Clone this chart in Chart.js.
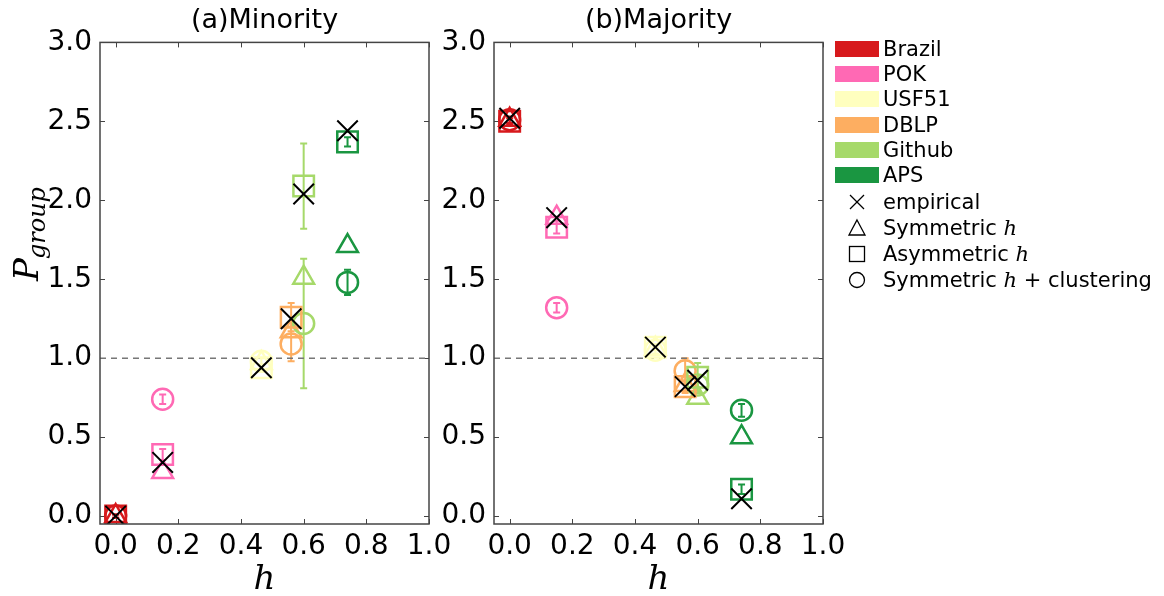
<!DOCTYPE html>
<html>
<head>
<meta charset="utf-8">
<script src="https://cdn.jsdelivr.net/npm/chart.js@4.4.1/dist/chart.umd.min.js"></script>
<style>
  body { margin: 0; background: #fff; width: 1164px; height: 596px; overflow: hidden; position: relative; font-family: "DejaVu Sans", sans-serif; }
  canvas { position: absolute; top: 0; }
  #legend { position: absolute; left: 835px; top: 0; width: 330px; height: 300px; }
  .row { position: absolute; left: 0; height: 26px; display: flex; align-items: center; white-space: pre; font-size: 21px; color: #000; }
  .patch { width: 44px; height: 16px; margin-right: 4px; }
  .sym { width: 44px; height: 20px; margin-right: 4px; display: flex; justify-content: center; align-items: center; }
  .mh { font-family: "DejaVu Serif", serif; font-style: italic; }
</style>
</head>
<body>
<canvas id="minority" width="470" height="596" style="left:0px"></canvas>
<canvas id="majority" width="420" height="596" style="left:440px"></canvas>
<div id="legend"></div>
<script>
// networks and their homophily h
const networks = ["Brazil", "POK", "USF51", "DBLP", "Github", "APS"];
const netColors = ["#d7191c", "#ff69b4", "#ffffbf", "#fdae61", "#a6d96a", "#1a9641"];
const hValues = [0.0, 0.15, 0.465, 0.56, 0.60, 0.74];

// (a) minority
const empMin = [0.0, 0.34, 0.94, 1.25, 2.04, 2.44];
const symMin = [0.0, 0.28, 0.97, 1.17, 1.51, 1.71];
const asymMin = [0.0, 0.39, 0.94, 1.26, 2.09, 2.37];
const asymMinErr = [0.01, 0.035, 0.02, 0.09, 0.27, 0.03];
const clusMin = [0.0, 0.74, 0.98, 1.09, 1.22, 1.48];
const clusMinErr = [0.01, 0.03, 0.02, 0.11, 0.41, 0.08];

// (b) majority
const empMaj = [2.52, 1.89, 1.07, 0.82, 0.86, 0.11];
const symMaj = [2.51, 1.89, 1.06, 0.83, 0.75, 0.50];
const asymMaj = [2.50, 1.83, 1.07, 0.82, 0.88, 0.17];
const asymMajErr = [0.02, 0.04, 0.02, 0.04, 0.09, 0.03];
const clusMaj = [2.51, 1.32, 1.05, 0.92, 0.83, 0.67];
const clusMajErr = [0.02, 0.03, 0.02, 0.08, 0.05, 0.04];

const referenceLevel = 1.0;
const xTicks = [0.0, 0.2, 0.4, 0.6, 0.8, 1.0];
const yTicks = [0.0, 0.5, 1.0, 1.5, 2.0, 2.5, 3.0];

const pts = (ys) => ys.map((v, i) => ({ x: hValues[i], y: v }));

const errorBars = {
  id: "errorBars",
  beforeDatasetsDraw(chart) {
    const { ctx, scales: { x, y } } = chart;
    ctx.save();
    ctx.lineWidth = 2;
    chart.data.datasets.forEach((ds) => {
      if (!ds.errors) return;
      ds.data.forEach((p, i) => {
        const e = ds.errors[i];
        const px = x.getPixelForValue(p.x);
        const top = y.getPixelForValue(p.y + e);
        const bot = y.getPixelForValue(p.y - e);
        ctx.strokeStyle = ds.pointBorderColor[i];
        ctx.beginPath();
        ctx.moveTo(px, top); ctx.lineTo(px, bot);
        ctx.moveTo(px - 3.5, top); ctx.lineTo(px + 3.5, top);
        ctx.moveTo(px - 3.5, bot); ctx.lineTo(px + 3.5, bot);
        ctx.stroke();
      });
    });
    ctx.restore();
  },
};

const frameAndLabels = {
  id: "frameAndLabels",
  beforeDatasetsDraw(chart) {
    const { ctx, chartArea: a, scales: { x, y } } = chart;
    ctx.save();
    ctx.strokeStyle = "#444";
    ctx.lineWidth = 1;
    ctx.beginPath();
    x.ticks.forEach((t) => {
      const px = Math.round(x.getPixelForValue(t.value)) + 0.5;
      ctx.moveTo(px, a.bottom); ctx.lineTo(px, a.bottom - 5);
      ctx.moveTo(px, a.top); ctx.lineTo(px, a.top + 5);
    });
    y.ticks.forEach((t) => {
      const py = Math.round(y.getPixelForValue(t.value)) + 0.5;
      ctx.moveTo(a.left, py); ctx.lineTo(a.left + 5, py);
      ctx.moveTo(a.right, py); ctx.lineTo(a.right - 5, py);
    });
    ctx.stroke();
    ctx.restore();
  },
  afterDraw(chart, args, opts) {
    const { ctx, chartArea: a } = chart;
    ctx.save();
    ctx.strokeStyle = "#444";
    ctx.lineWidth = 1.5;
    ctx.strokeRect(a.left, a.top, a.right - a.left, a.bottom - a.top);
    ctx.fillStyle = "#000";
    ctx.textAlign = "center";
    ctx.textBaseline = "alphabetic";
    ctx.font = "italic 34px 'DejaVu Serif'";
    ctx.fillText("h", (a.left + a.right) / 2, 589);
    if (opts.yLabel) {
      ctx.translate(38, 281);
      ctx.rotate(-Math.PI / 2);
      ctx.textAlign = "left";
      ctx.font = "italic 34px 'DejaVu Serif'";
      ctx.fillText("P", 0, 0);
      const pw = ctx.measureText("P").width;
      ctx.font = "italic 24px 'DejaVu Serif'";
      ctx.fillText("group", pw - 1, 7);
    }
    ctx.restore();
  },
};

function makePanel(id, title, emp, sym, asym, asymErr, clus, clusErr, axisWidth, padRight, yLabel) {
  const shape = (label, data, style, radius, order, errors) => ({
    label: label,
    data: pts(data),
    errors: errors,
    pointStyle: style,
    pointRadius: radius,
    pointHoverRadius: radius,
    pointBorderColor: netColors,
    pointBackgroundColor: "rgba(0,0,0,0)",
    pointBorderWidth: 2.5,
    order: order,
  });
  return new Chart(document.getElementById(id), {
    type: "scatter",
    data: {
      datasets: [
        {
          label: "empirical",
          data: pts(emp),
          pointStyle: "crossRot",
          pointRadius: 14.5,
          pointHoverRadius: 14.5,
          pointBorderColor: networks.map(() => "#000"),
          pointBorderWidth: 2,
          order: 0,
        },
        shape("Asymmetric h", asym, "rect", 14.5, 1, asymErr),
        shape("Symmetric h + clustering", clus, "circle", 10.5, 2, clusErr),
        shape("Symmetric h", sym, "triangle", 12, 3),
        {
          label: "reference",
          type: "line",
          data: [{ x: -0.05, y: referenceLevel }, { x: 1.0, y: referenceLevel }],
          borderColor: "#777",
          borderWidth: 1.5,
          borderDash: [6, 5],
          pointRadius: 0,
          order: 10,
        },
      ],
    },
    options: {
      responsive: false,
      animation: false,
      events: [],
      layout: { padding: { left: 0, right: padRight, top: 0, bottom: 0 } },
      plugins: {
        legend: { display: false },
        tooltip: { enabled: false },
        title: {
          display: true,
          text: title,
          fullSize: false,
          color: "#000",
          font: { family: "DejaVu Sans", size: 27, weight: "normal", lineHeight: 1.2 },
          padding: { top: 5, bottom: 5 },
        },
        frameAndLabels: { yLabel: yLabel },
      },
      scales: {
        x: {
          type: "linear",
          min: -0.05,
          max: 1.0,
          afterFit: (s) => { s.height = 72; },
          afterBuildTicks: (s) => { s.ticks = xTicks.map((v) => ({ value: v })); },
          grid: { display: false, drawTicks: false },
          border: { display: false },
          ticks: {
            padding: 6,
            color: "#000",
            font: { family: "DejaVu Sans", size: 28 },
            callback: (v) => v.toFixed(1),
            maxRotation: 0,
            autoSkip: false,
          },
        },
        y: {
          type: "linear",
          min: -0.05,
          max: 3.0,
          afterFit: (s) => { s.width = axisWidth; },
          afterBuildTicks: (s) => { s.ticks = yTicks.map((v) => ({ value: v })); },
          grid: { display: false, drawTicks: false },
          border: { display: false },
          ticks: {
            padding: 8,
            color: "#000",
            font: { family: "DejaVu Sans", size: 28 },
            callback: (v) => v.toFixed(1),
            autoSkip: false,
          },
        },
      },
    },
    plugins: [errorBars, frameAndLabels],
  });
}

makePanel("minority", "(a)Minority", empMin, symMin, asymMin, asymMinErr, clusMin, clusMinErr, 100, 41, true);
makePanel("majority", "(b)Majority", empMaj, symMaj, asymMaj, asymMajErr, clusMaj, clusMajErr, 54, 37, false);

// legend: networks as colour patches, models as marker symbols
const models = [
  { name: "<span>empirical</span>", svg: '<line x1="3" y1="3" x2="17" y2="17"/><line x1="17" y1="3" x2="3" y2="17"/>' },
  { name: '<span>Symmetric <span class="mh">h</span></span>', svg: '<polygon points="10,2 18,17 2,17" fill="none"/>' },
  { name: '<span>Asymmetric <span class="mh">h</span></span>', svg: '<rect x="2.5" y="2.5" width="15" height="15" fill="none"/>' },
  { name: '<span>Symmetric <span class="mh">h</span> + clustering</span>', svg: '<circle cx="10" cy="10" r="7.5" fill="none"/>' },
];
const legend = document.getElementById("legend");
networks.forEach((n, i) => {
  const row = document.createElement("div");
  row.className = "row";
  row.style.top = (36 + 25.2 * i) + "px";
  row.innerHTML = '<div class="patch" style="background:' + netColors[i] + '"></div><span>' + n + "</span>";
  legend.appendChild(row);
});
models.forEach((m, i) => {
  const row = document.createElement("div");
  row.className = "row";
  row.style.top = (189 + 26 * i) + "px";
  row.innerHTML = '<div class="sym"><svg width="20" height="20" stroke="#000" stroke-width="1.3">' + m.svg + "</svg></div>" + m.name;
  legend.appendChild(row);
});
</script>
</body>
</html>
